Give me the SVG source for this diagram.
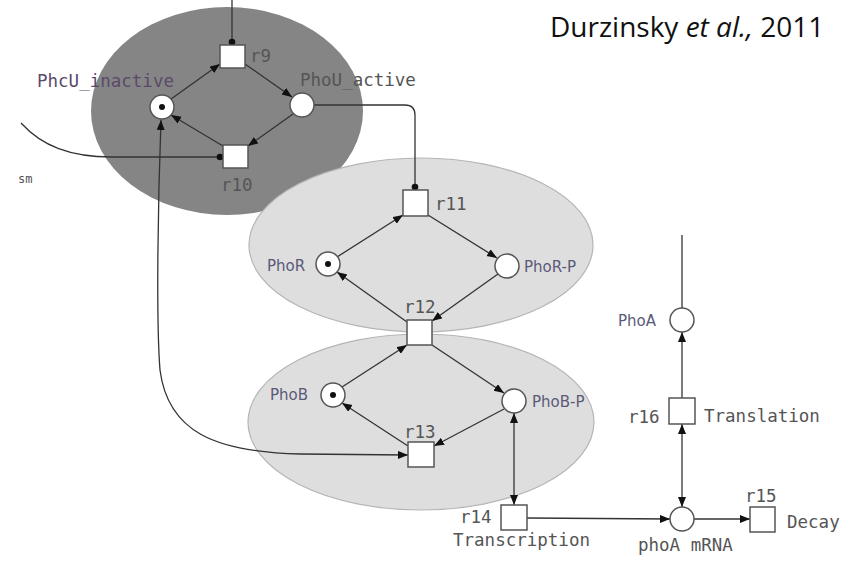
<svg xmlns="http://www.w3.org/2000/svg" width="854" height="563" viewBox="0 0 854 563">
<style>
.place{fill:#fff;stroke:#555;stroke-width:1.5}
.trans{fill:#fff;stroke:#555;stroke-width:1.5}
.tok{fill:#111}
.edge{fill:none;stroke:#333;stroke-width:1.3}
.arr{marker-end:url(#ah)}
.both{marker-start:url(#ah);marker-end:url(#ah)}
.dot{marker-end:url(#dt)}
.mono{font-family:"DejaVu Sans Mono","Liberation Mono",monospace;font-size:17.5px;fill:#555}
.sans{font-family:"DejaVu Sans","Liberation Sans",sans-serif;font-size:15px;fill:#5a5a78}
.title{font-family:"Open Sans","Noto Sans",sans-serif;font-size:28px;fill:#111}
</style>
<defs>
<marker id="ah" markerUnits="userSpaceOnUse" markerWidth="11" markerHeight="9" refX="10" refY="4" orient="auto-start-reverse"><path d="M0,0 L10,4 L0,8 z" fill="#111"/></marker>
<marker id="dt" markerUnits="userSpaceOnUse" markerWidth="8" markerHeight="8" refX="4" refY="4"><circle cx="4" cy="4" r="3.3" fill="#111"/></marker>
</defs>
<rect width="854" height="563" fill="#fff"/>
<g id="compartments">
<ellipse id="phoU-region" cx="227" cy="111" rx="136" ry="104" fill="#858585"/>
<ellipse id="phoR-region" cx="421" cy="245" rx="172" ry="87" fill="#dedede" stroke="#b5b5b5" stroke-width="1.2"/>
<ellipse id="phoB-region" cx="421" cy="422" rx="173" ry="88" fill="#dedede" stroke="#b5b5b5" stroke-width="1.2"/>
</g>
<g id="connectors">
<path class="edge dot" d="M232,0 L232,42"/>
<path class="edge arr" d="M171,99 L220,64"/>
<path class="edge arr" d="M245,64 L292,97"/>
<path class="edge arr" d="M293,114 L248,146"/>
<path class="edge arr" d="M223,146 L171,115"/>
<path class="edge dot" d="M21,123 C42,146 70,157 112,157 L220,157"/>
<path class="edge dot" d="M314,105 L405,105 Q415,105 415,115 L415,187"/>
<path class="edge arr" d="M337,257 L403,215"/>
<path class="edge arr" d="M428,215 L497,258"/>
<path class="edge arr" d="M498,274 L432,321"/>
<path class="edge arr" d="M407,322 L337,272"/>
<path class="edge arr" d="M342,387 L407,345"/>
<path class="edge arr" d="M432,345 L504,393"/>
<path class="edge arr" d="M504,409 L434,446"/>
<path class="edge arr" d="M408,446 L342,403"/>
<path class="edge both" d="M514,413 L514,505"/>
<path class="edge both" d="M161,120 C158,200 156,320 160,370 C168,432 215,452 300,454 L408,455"/>
<path class="edge arr" d="M527,518 L670,519"/>
<path class="edge arr" d="M694,519 L750,519"/>
<path class="edge both" d="M682,424 L682,507"/>
<path class="edge arr" d="M682,398 L682,332"/>
<path class="edge" d="M682,235 L682,308"/>
</g>
<g id="PhcU_inactive"><circle class="place" cx="162" cy="107" r="12"/><circle class="tok" cx="162" cy="107" r="3"/><text class="mono" x="37" y="87" style="fill:#5a4a6a">PhcU_inactive</text></g>
<g id="PhoU_active"><circle class="place" cx="302" cy="105" r="12"/><text class="mono" x="300" y="86">PhoU_active</text></g>
<g id="r9"><rect class="trans" x="220" y="45" width="25" height="23"/><text class="mono" x="250" y="62">r9</text></g>
<g id="r10"><rect class="trans" x="223" y="145" width="25" height="23"/><text class="mono" x="221" y="191">r10</text></g>
<g id="sm"><text class="mono" x="18" y="183" style="font-size:12px">sm</text></g>
<g id="r11"><rect class="trans" x="403" y="190" width="25" height="26"/><text class="mono" x="435" y="210">r11</text></g>
<g id="PhoR"><circle class="place" cx="328" cy="264" r="12"/><circle class="tok" cx="328" cy="264" r="3"/><text class="sans" x="267" y="271">PhoR</text></g>
<g id="PhoR-P"><circle class="place" cx="507" cy="266" r="12"/><text class="sans" x="524" y="272">PhoR-P</text></g>
<g id="r12"><rect class="trans" x="407" y="320" width="25" height="25"/><text class="mono" x="404" y="313">r12</text></g>
<g id="PhoB"><circle class="place" cx="333" cy="395" r="12"/><circle class="tok" cx="333" cy="395" r="3"/><text class="sans" x="270" y="400">PhoB</text></g>
<g id="PhoB-P"><circle class="place" cx="514" cy="401" r="12"/><text class="sans" x="532" y="407">PhoB-P</text></g>
<g id="r13"><rect class="trans" x="408" y="442" width="26" height="25"/><text class="mono" x="404" y="438">r13</text></g>
<g id="r14"><rect class="trans" x="501" y="505" width="26" height="25"/><text class="mono" x="460" y="523">r14</text><text class="mono" x="453" y="546">Transcription</text></g>
<g id="PhoA"><circle class="place" cx="682" cy="320" r="12"/><text class="sans" x="618" y="326">PhoA</text></g>
<g id="r16"><rect class="trans" x="669" y="398" width="26" height="26"/><text class="mono" x="628" y="423">r16</text><text class="mono" x="704" y="422">Translation</text></g>
<g id="phoA_mRNA"><circle class="place" cx="682" cy="519" r="12"/><text class="mono" x="638" y="551">phoA mRNA</text></g>
<g id="r15"><rect class="trans" x="750" y="507" width="25" height="25"/><text class="mono" x="745" y="502">r15</text><text class="mono" x="787" y="528">Decay</text></g>
<g id="citation"><text class="title" x="550" y="37">Durzinsky <tspan font-style="italic">et al.,</tspan> 2011</text></g>
</svg>
